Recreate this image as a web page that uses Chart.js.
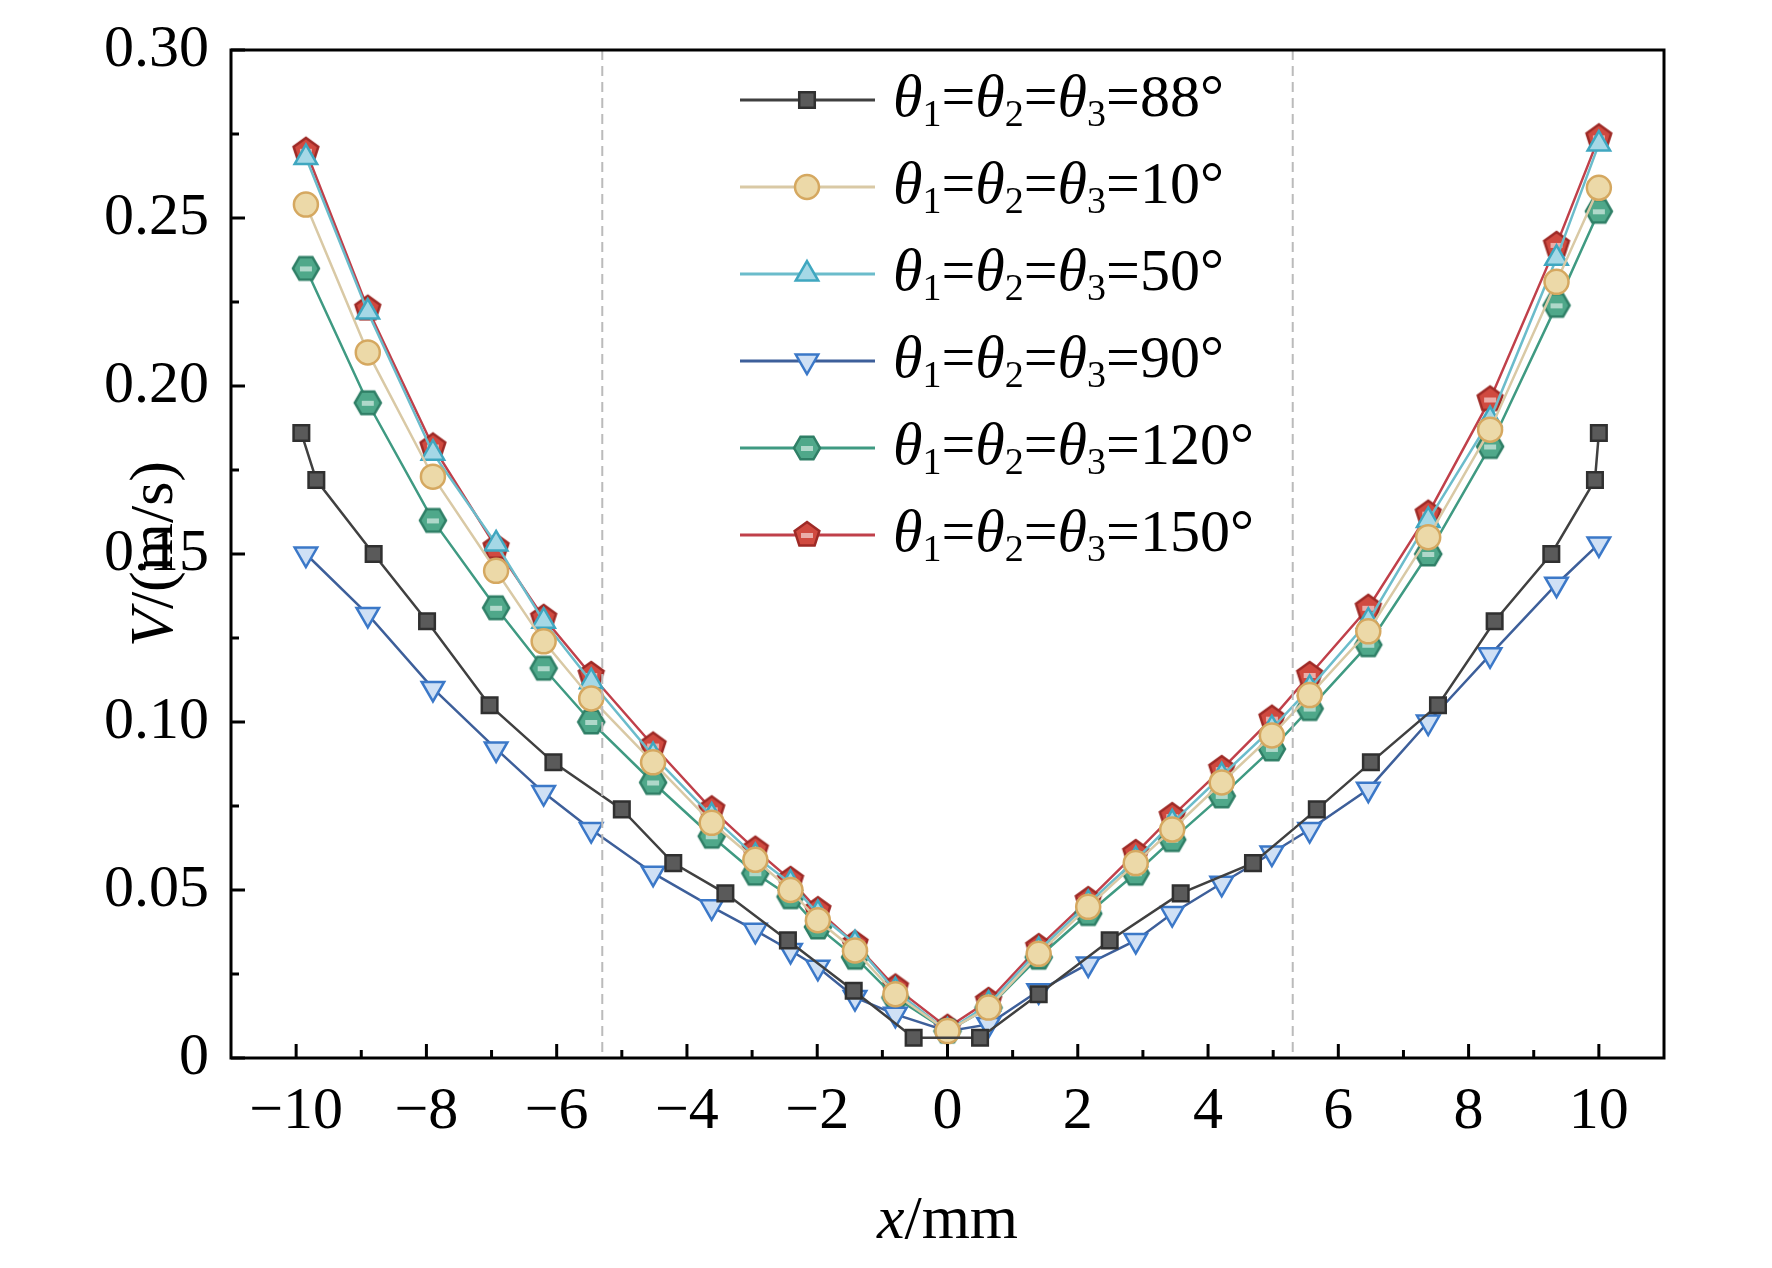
<!DOCTYPE html><html><head><meta charset="utf-8">
<script src="https://cdn.jsdelivr.net/npm/chart.js@4"></script>
<style>html,body{margin:0;background:#fff}#w{width:1772px;height:1268px}</style></head><body><div id="w"><canvas id="c"></canvas></div>
<script>
const labels=['θ1=θ2=θ3=88°','θ1=θ2=θ3=10°','θ1=θ2=θ3=50°','θ1=θ2=θ3=90°','θ1=θ2=θ3=120°','θ1=θ2=θ3=150°'];
const xSq=[-9.92,-9.69,-8.81,-7.99,-7.03,-6.05,-5.0,-4.21,-3.41,-2.45,-1.44,-0.52,0.5,1.4,2.49,3.58,4.69,5.67,6.5,7.53,8.4,9.27,9.94,10];
const v88=[0.186,0.172,0.150,0.130,0.105,0.088,0.074,0.058,0.049,0.035,0.020,0.006,0.006,0.019,0.035,0.049,0.058,0.074,0.088,0.105,0.130,0.150,0.172,0.186];
const xOt=[-9.85,-8.9,-7.9,-6.93,-6.2,-5.47,-4.52,-3.62,-2.95,-2.41,-1.99,-1.42,-0.8,0.0,0.63,1.4,2.16,2.89,3.45,4.21,4.98,5.56,6.46,7.38,8.33,9.35,10];
const v10=[0.254,0.210,0.173,0.145,0.124,0.107,0.088,0.070,0.059,0.050,0.041,0.032,0.019,0.008,0.015,0.031,0.045,0.058,0.068,0.082,0.096,0.108,0.127,0.155,0.187,0.231,0.259];
const v50=[0.268,0.222,0.180,0.153,0.130,0.112,0.090,0.072,0.060,0.052,0.043,0.034,0.020,0.008,0.016,0.032,0.046,0.059,0.070,0.084,0.098,0.110,0.130,0.160,0.190,0.238,0.272];
const v90=[0.150,0.132,0.110,0.092,0.079,0.068,0.055,0.045,0.038,0.032,0.027,0.018,0.013,0.008,0.010,0.020,0.028,0.035,0.043,0.052,0.061,0.068,0.080,0.100,0.120,0.141,0.153];
const v120=[0.235,0.195,0.160,0.134,0.116,0.100,0.082,0.066,0.055,0.048,0.039,0.030,0.018,0.008,0.015,0.030,0.043,0.055,0.065,0.078,0.092,0.104,0.123,0.150,0.182,0.224,0.252];
const v150=[0.270,0.223,0.182,0.152,0.131,0.114,0.093,0.074,0.062,0.053,0.044,0.034,0.021,0.009,0.017,0.033,0.047,0.061,0.072,0.086,0.101,0.114,0.134,0.162,0.196,0.242,0.274];
const dashX=[-5.3,5.3];
function poly(n,fill,stroke,rot){const c=document.createElement('canvas');c.width=c.height=32;const g=c.getContext('2d');g.beginPath();for(let i=0;i<n;i++){const a=rot+i*2*Math.PI/n;const x=16+13*Math.cos(a),y=16+13*Math.sin(a);i?g.lineTo(x,y):g.moveTo(x,y);}g.closePath();g.fillStyle=fill;g.fill();g.lineWidth=2.5;g.strokeStyle=stroke;g.stroke();g.fillStyle='rgba(255,255,255,0.55)';g.fillRect(10,14,12,5);return c;}
const hex=poly(6,'#4fa88a','#2f7f66',0), pent=poly(5,'#d04a40','#9e2a26',-Math.PI/2);
const pts=(xs,vs)=>xs.map((x,i)=>({x,y:vs[i]}));
const S=[
 {d:pts(xSq,v88),c:'#404040',pb:'#303030',pf:'#5a5a5a',ps:'rect',r:11},
 {d:pts(xOt,v10),c:'#d9c9a5',pb:'#d5a860',pf:'#ecd9a8',ps:'circle',r:12},
 {d:pts(xOt,v50),c:'#6bbccb',pb:'#3fa7c0',pf:'#a5d8e6',ps:'triangle',r:13},
 {d:pts(xOt,v90),c:'#3d5f9a',pb:'#3b78c8',pf:'#cfe0f5',ps:'triangle',r:13,rot:180},
 {d:pts(xOt,v120),c:'#3f9a82',ps:hex},
 {d:pts(xOt,v150),c:'#c0404a',ps:pent}
];
const datasets=S.map((s,i)=>({label:labels[i],data:s.d,borderColor:s.c,borderWidth:2.5,pointStyle:s.ps,pointRadius:s.r||13,pointRotation:s.rot||0,pointBackgroundColor:s.pf||s.c,pointBorderColor:s.pb||s.c,pointBorderWidth:2.5,order:i===0?-1:0}));
const F='"Liberation Serif",serif';
const deco={id:'deco',afterDraw(ch){const g=ch.ctx,a=ch.chartArea,xs=ch.scales.x,ys=ch.scales.y;g.save();
 g.strokeStyle='#bbb';g.lineWidth=2;g.setLineDash([10,6]);dashX.forEach(v=>{const p=xs.getPixelForValue(v);g.beginPath();g.moveTo(p,a.top);g.lineTo(p,a.bottom);g.stroke();});g.setLineDash([]);
 g.strokeStyle='#000';g.lineWidth=3;g.strokeRect(a.left,a.top,a.right-a.left,a.bottom-a.top);
 for(let v=0;v<=0.3001;v+=0.025){const p=ys.getPixelForValue(v);const L=Math.round(v*1000)%50===0?14:8;g.beginPath();g.moveTo(a.left,p);g.lineTo(a.left+L,p);g.stroke();}
 for(let v=-10;v<=10;v+=1){const p=xs.getPixelForValue(v);const L=v%2===0?14:8;g.beginPath();g.moveTo(p,a.bottom);g.lineTo(p,a.bottom-L);g.stroke();}
 // axis titles
 g.fillStyle='#000';g.textBaseline='alphabetic';
 let tx=(a.left+a.right)/2;g.font='italic 62px '+F;const w1=g.measureText('x').width;g.font='62px '+F;const w2=g.measureText('/mm').width;
 let sx=tx-(w1+w2)/2;g.font='italic 62px '+F;g.fillText('x',sx,1238);g.font='62px '+F;g.fillText('/mm',sx+w1,1238);
 g.save();g.translate(172,(a.top+a.bottom)/2);g.rotate(-Math.PI/2);g.font='italic 62px '+F;const v1=g.measureText('V').width;g.font='62px '+F;const v2=g.measureText('/(m/s)').width;
 let sy=-(v1+v2)/2;g.font='italic 62px '+F;g.fillText('V',sy,0);g.font='62px '+F;g.fillText('/(m/s)',sy+v1,0);g.restore();
 // legend
 let y0=100;g.textBaseline='middle';
 S.forEach((s,i)=>{const y=y0+i*87,x1=740,x2=875,xm=807;g.strokeStyle=s.c;g.lineWidth=3;g.beginPath();g.moveTo(x1,y);g.lineTo(x2,y);g.stroke();
  const m=ch.getDatasetMeta(i).data[0];const ox=m.x,oy=m.y;m.x=xm;m.y=y;m.draw(g,{left:0,top:0,right:2000,bottom:2000});m.x=ox;m.y=oy;
  g.fillStyle='#000';const t=labels[i].match(/θ1=θ2=θ3=(.*)/)[1];let x=893;
  for(let k=1;k<=3;k++){g.font='italic 60px '+F;g.fillText('θ',x,y);x+=g.measureText('θ').width;g.font='38px '+F;g.fillText(k,x,y+16);x+=g.measureText(k).width;g.font='60px '+F;const s2=k<3?'=':'='+t;g.fillText(s2,x,y);x+=g.measureText(s2).width;}
 });
 g.restore();}};
new Chart(document.getElementById('c'),{type:'line',data:{datasets},plugins:[deco],options:{responsive:true,maintainAspectRatio:false,animation:false,
 layout:{padding:{top:6,right:108,bottom:110,left:90}},
 plugins:{legend:{display:false},tooltip:{enabled:false}},
 scales:{x:{type:'linear',min:-11,max:11,grid:{display:false},border:{display:false},ticks:{color:'#000',font:{family:F,size:60},callback:v=>String(v).replace('-','−'),autoSkip:false,maxRotation:0,padding:10},afterBuildTicks(s){s.ticks=[-10,-8,-6,-4,-2,0,2,4,6,8,10].map(v=>({value:v}));}},
  y:{min:0,max:0.3,grid:{display:false},border:{display:false},ticks:{stepSize:0.05,color:'#000',font:{family:F,size:60},callback:v=>v===0?'0':v.toFixed(2),padding:14}}}}});
</script></body></html>
